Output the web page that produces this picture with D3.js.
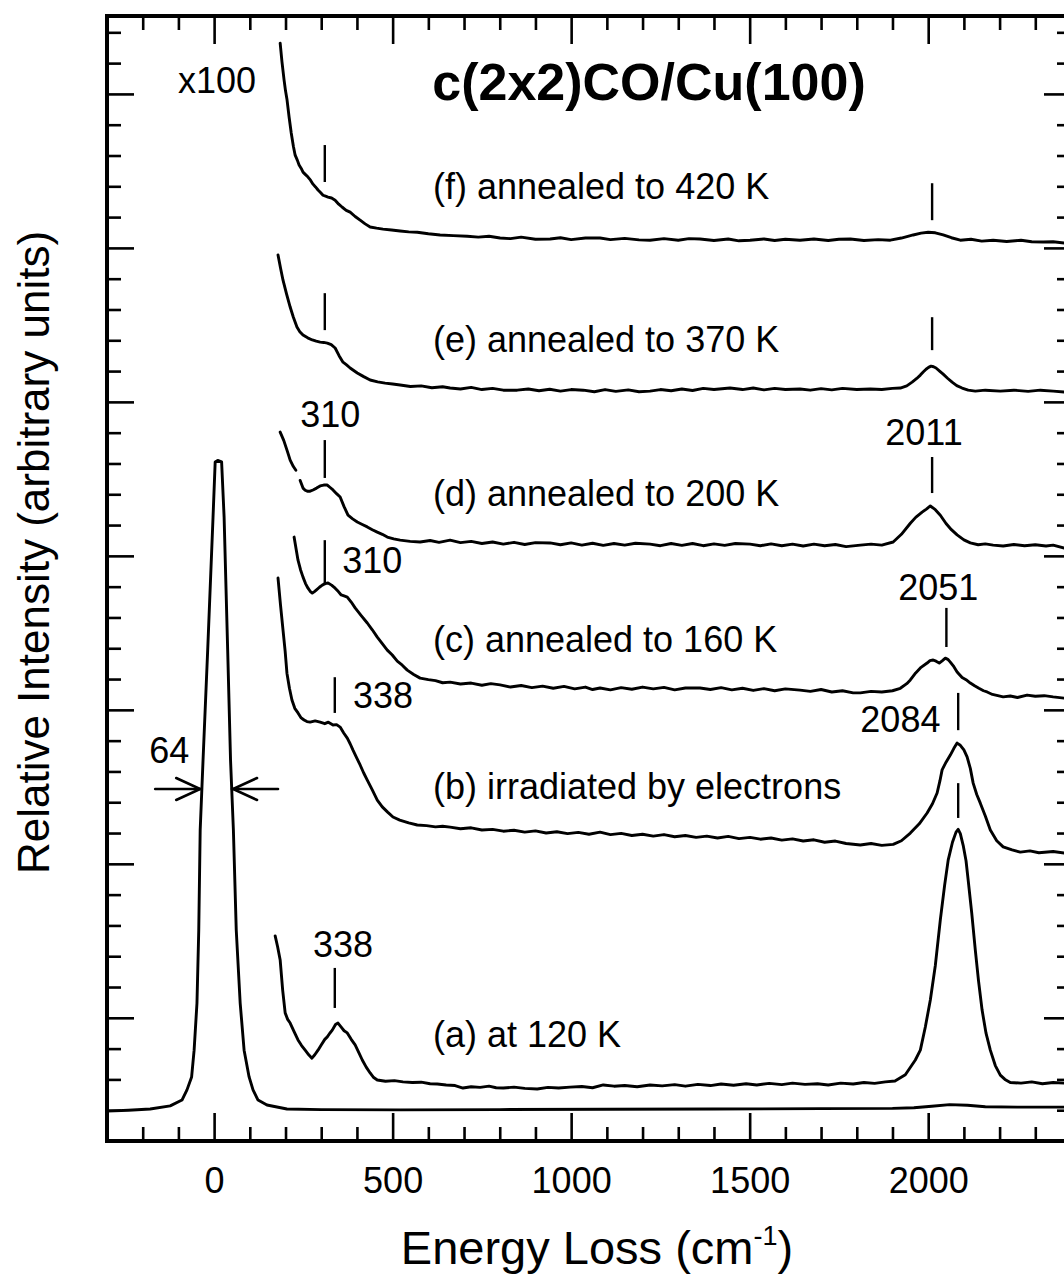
<!DOCTYPE html>
<html>
<head>
<meta charset="utf-8">
<script src="https://cdn.jsdelivr.net/npm/d3@7"></script>
<style>
  html, body { margin: 0; padding: 0; background: #fff; }
  svg { display: block; }
  text { font-family: "Liberation Sans", Arial, Helvetica, sans-serif; fill: #000; }
</style>
</head>
<body>
<svg id="chart" width="1064" height="1281"></svg>
<script>
// ---------------- data (energy loss in cm^-1, intensity in arbitrary units) ----------------
const xMajorTicks = [0, 500, 1000, 1500, 2000];
const xMinorTicks = [-200, -100, 100, 200, 300, 400, 600, 700, 800, 900, 1100, 1200, 1300, 1400,
                     1600, 1700, 1800, 1900, 2100, 2200, 2300];
const yMajorTicks = [4, 9, 14, 19, 24, 29, 34];
const yMinorTicks = [1, 2, 3, 5, 6, 7, 8, 10, 11, 12, 13, 15, 16, 17, 18, 20, 21, 22, 23,
                     25, 26, 27, 28, 30, 31, 32, 33, 35, 36];

// unscaled (elastic) spectrum
const elastic = [[-300,0.97],[-240,1.0],[-179,1.04],[-123,1.14],[-90,1.33],[-76,1.66],[-63,2.08],[-56,2.95],
  [-48,4.48],[-43,6.85],[-39,10.1],[-31,12.37],[-18,15.94],[-3,20.26],[3,22.05],[10,22.1],[21,22.05],
  [28,20.26],[38,15.94],[46,12.37],[54,10.1],[62,6.85],[73,4.48],[84,2.95],[98,2.08],[109,1.66],
  [123,1.33],[148,1.17],[204,1.04],[300,1.02],[521,1.01],[800,1.02],[1100,1.03],[1400,1.04],[1700,1.05],
  [1900,1.06],[1960,1.08],[2010,1.13],[2060,1.18],[2110,1.16],[2160,1.11],[2250,1.1],[2400,1.1]];

// x100 spectra
const specA = [[171,6.66],[178,6.3],[185,5.88],[192,4.9],[199,4.16],[206,3.95],[213,3.83],[224,3.55],[235,3.28],
  [245,3.1],[255,2.95],[265,2.8],[274,2.69],[282,2.8],[291,2.95],[300,3.12],[310,3.3],[317,3.38],[324,3.5],
  [331,3.6],[340,3.78],[347,3.83],[356,3.7],[364,3.58],[373,3.51],[384,3.3],[395,3.12],[405,2.88],[415,2.63],
  [426,2.4],[437,2.21],[447,2.06],[457,1.98],[480,1.94],[505,1.96],[529,1.92],[555,1.9],[580,1.91],[605,1.86],
  [625,1.85],[650,1.82],[675,1.8],[697,1.72],[720,1.76],[745,1.74],[770,1.78],[790,1.73],[810,1.72],[840,1.75],
  [870,1.71],[905,1.69],[935,1.74],[965,1.72],[997,1.75],[1030,1.77],[1060,1.73],[1090,1.82],[1120,1.78],
  [1150,1.8],[1185,1.76],[1221,1.82],[1255,1.79],[1290,1.83],[1320,1.78],[1355,1.84],[1390,1.8],[1420,1.85],
  [1455,1.81],[1490,1.86],[1520,1.82],[1555,1.87],[1590,1.83],[1620,1.88],[1655,1.84],[1690,1.86],[1720,1.82],
  [1755,1.88],[1790,1.85],[1820,1.9],[1850,1.87],[1880,1.92],[1907,1.95],[1936,2.15],[1964,2.63],[1978,2.95],
  [1992,3.7],[2006,4.58],[2020,5.7],[2034,7.18],[2046,8.3],[2056,9.12],[2068,9.7],[2078,10.03],[2084,10.12],
  [2090,9.98],[2098,9.6],[2106,9.1],[2112,8.47],[2122,7.4],[2132,6.2],[2141,5.2],[2151,4.25],[2162,3.5],
  [2174,2.95],[2188,2.45],[2202,2.14],[2215,2.0],[2230,1.9],[2260,1.88],[2290,1.92],[2320,1.86],[2350,1.9],
  [2381,1.88],[2400,1.9]];

const specB = [[179,18.28],[186,17.4],[193,16.59],[199,15.9],[204,15.19],[211,14.7],[218,14.32],[226,14.05],
  [235,13.9],[243,13.75],[252,13.67],[260,13.62],[269,13.6],[283,13.64],[297,13.6],[310,13.55],[320,13.6],
  [333,13.51],[343,13.52],[353,13.44],[363,13.25],[373,13.08],[381,12.9],[389,12.69],[399,12.45],[409,12.21],
  [419,11.95],[429,11.72],[443,11.4],[457,11.07],[471,10.85],[486,10.68],[501,10.52],[520,10.42],[545,10.33],
  [569,10.26],[595,10.24],[620,10.2],[640,10.22],[661,10.19],[690,10.14],[720,10.17],[750,10.1],[780,10.12],
  [810,10.06],[840,10.09],[870,10.03],[900,10.07],[930,10.0],[960,10.04],[990,9.98],[1020,10.02],[1050,9.96],
  [1081,10.03],[1110,9.95],[1140,9.99],[1170,9.92],[1200,9.96],[1230,9.9],[1260,9.95],[1290,9.88],[1320,9.92],
  [1350,9.86],[1380,9.9],[1410,9.84],[1440,9.89],[1470,9.82],[1501,9.86],[1530,9.8],[1560,9.84],[1590,9.77],
  [1620,9.81],[1650,9.74],[1680,9.78],[1710,9.7],[1740,9.74],[1770,9.66],[1810,9.61],[1840,9.66],[1870,9.6],
  [1902,9.63],[1925,9.75],[1950,10.0],[1975,10.3],[1997,10.65],[2012,10.95],[2025,11.3],[2033,11.7],
  [2039,12.05],[2050,12.3],[2062,12.53],[2072,12.75],[2081,12.92],[2090,12.85],[2100,12.7],[2109,12.47],
  [2118,12.1],[2126,11.62],[2136,11.25],[2146,10.97],[2160,10.55],[2174,10.1],[2192,9.75],[2210,9.55],
  [2235,9.45],[2258,9.38],[2285,9.42],[2310,9.36],[2350,9.4],[2381,9.35],[2400,9.33]];

const specC = [[224,19.61],[230,19.2],[235,18.86],[242,18.55],[249,18.31],[256,18.1],[263,17.95],[269,17.85],
  [275,17.79],[281,17.84],[286,17.89],[295,17.98],[303,18.05],[311,18.1],[319,18.12],[329,18.05],[339,17.95],
  [348,17.84],[356,17.73],[364,17.7],[373,17.66],[384,17.5],[395,17.31],[412,17.06],[429,16.82],[443,16.6],
  [457,16.36],[471,16.15],[485,15.94],[499,15.78],[513,15.58],[527,15.45],[541,15.29],[559,15.15],[577,15.03],
  [600,14.98],[620,14.95],[640,14.88],[661,14.9],[690,14.84],[720,14.87],[750,14.8],[775,14.85],[801,14.81],
  [830,14.74],[860,14.79],[890,14.72],[920,14.77],[950,14.7],[980,14.76],[1010,14.68],[1040,14.74],[1060,14.66],
  [1081,14.71],[1110,14.65],[1140,14.72],[1170,14.67],[1200,14.74],[1230,14.68],[1260,14.73],[1290,14.65],
  [1320,14.71],[1361,14.71],[1390,14.66],[1420,14.72],[1450,14.65],[1480,14.7],[1510,14.63],[1540,14.69],
  [1570,14.62],[1600,14.68],[1641,14.64],[1670,14.6],[1700,14.66],[1730,14.58],[1760,14.62],[1790,14.55],
  [1810,14.55],[1840,14.6],[1870,14.58],[1900,14.62],[1922,14.7],[1940,14.85],[1950,14.97],[1965,15.2],
  [1980,15.38],[1997,15.52],[2005,15.6],[2014,15.62],[2022,15.58],[2031,15.52],[2040,15.6],[2048,15.68],
  [2055,15.64],[2062,15.55],[2072,15.4],[2081,15.23],[2095,15.05],[2106,14.98],[2118,14.87],[2130,14.78],
  [2142,14.7],[2155,14.62],[2165,14.58],[2180,14.5],[2195,14.46],[2210,14.42],[2230,14.45],[2250,14.4],
  [2277,14.48],[2300,14.44],[2325,14.46],[2350,14.42],[2381,14.38],[2400,14.38]];

const specD = [[185,23.02],[195,22.75],[205,22.4],[213,22.11],[222,21.9],[229,21.78],null,[241,21.45],
  [249,21.2],[255,21.13],[261,21.1],[269,21.1],[277,21.14],[287,21.2],[297,21.27],[307,21.3],[317,21.3],
  [325,21.22],[333,21.14],[343,21.02],[353,20.91],[364,20.6],[375,20.32],[388,20.2],[401,20.1],[415,20.02],
  [429,19.94],[443,19.85],[457,19.77],[471,19.7],[485,19.61],[503,19.55],[521,19.51],[549,19.47],[577,19.45],
  [605,19.5],[630,19.44],[661,19.51],[690,19.43],[720,19.47],[750,19.4],[780,19.45],[810,19.38],[840,19.44],
  [870,19.37],[900,19.43],[941,19.42],[970,19.36],[1000,19.42],[1030,19.35],[1060,19.41],[1090,19.34],
  [1120,19.4],[1150,19.35],[1180,19.41],[1221,19.38],[1250,19.33],[1280,19.4],[1310,19.34],[1340,19.4],
  [1370,19.33],[1400,19.39],[1430,19.34],[1460,19.4],[1501,19.38],[1530,19.33],[1560,19.39],[1590,19.33],
  [1620,19.38],[1650,19.32],[1680,19.38],[1710,19.33],[1740,19.37],[1770,19.3],[1810,19.35],[1840,19.38],
  [1870,19.35],[1902,19.45],[1925,19.7],[1950,20.06],[1965,20.25],[1983,20.42],[1995,20.52],[2006,20.62],
  [2020,20.5],[2034,20.32],[2050,20.05],[2065,19.85],[2081,19.68],[2100,19.52],[2118,19.42],[2140,19.36],
  [2160,19.39],[2182,19.35],[2210,19.32],[2240,19.37],[2270,19.33],[2300,19.36],[2330,19.32],[2350,19.35],
  [2381,19.25],[2400,19.2]];

const specE = [[179,28.77],[186,28.35],[193,27.95],[203,27.5],[213,27.08],[222,26.75],[232,26.43],[240,26.28],
  [249,26.17],[262,26.08],[275,26.01],[286,25.97],[297,25.94],[307,25.93],[317,25.91],[328,25.86],[339,25.75],
  [350,25.5],[361,25.29],[371,25.2],[381,25.1],[391,25.02],[401,24.94],[419,24.82],[437,24.71],[458,24.65],
  [479,24.61],[500,24.58],[521,24.55],[550,24.5],[580,24.52],[610,24.46],[640,24.49],[661,24.45],[690,24.42],
  [720,24.47],[750,24.4],[780,24.44],[810,24.38],[849,24.38],[880,24.42],[910,24.36],[940,24.41],[970,24.35],
  [1000,24.4],[1034,24.38],[1065,24.33],[1095,24.4],[1125,24.34],[1160,24.39],[1190,24.33],[1221,24.35],
  [1250,24.4],[1280,24.36],[1310,24.42],[1340,24.37],[1370,24.44],[1400,24.4],[1445,24.45],[1480,24.4],
  [1510,24.45],[1540,24.39],[1570,24.44],[1600,24.4],[1641,24.42],[1670,24.38],[1700,24.43],[1730,24.39],
  [1760,24.44],[1800,24.4],[1838,24.42],[1870,24.4],[1900,24.44],[1922,24.45],[1940,24.52],[1955,24.64],
  [1968,24.76],[1978,24.87],[1986,24.97],[1994,25.06],[2001,25.12],[2008,25.16],[2015,25.14],[2022,25.1],
  [2032,25.0],[2042,24.9],[2055,24.76],[2067,24.64],[2080,24.53],[2095,24.45],[2112,24.38],[2132,24.35],
  [2160,24.38],[2202,24.35],[2240,24.38],[2280,24.34],[2314,24.38],[2350,24.35],[2381,24.32],[2400,24.3]];

const specF = [[185,35.65],[190,35.05],[196,34.45],[200,34.1],[204,33.83],[210,33.25],[216,32.73],[222,32.3],
  [227,32.01],[233,31.85],[238,31.69],[244,31.58],[249,31.46],[256,31.38],[263,31.3],[270,31.2],[277,31.07],
  [284,30.98],[291,30.88],[298,30.8],[305,30.71],[312,30.68],[319,30.65],[329,30.62],[339,30.55],[349,30.42],
  [359,30.32],[370,30.22],[381,30.16],[395,30.02],[409,29.9],[423,29.78],[437,29.68],[455,29.64],[473,29.61],
  [497,29.58],[521,29.55],[545,29.52],[569,29.51],[600,29.46],[633,29.42],[670,29.4],[709,29.38],[740,29.35],
  [770,29.38],[801,29.32],[830,29.3],[860,29.35],[900,29.28],[941,29.29],[970,29.33],[1000,29.27],[1040,29.32],
  [1081,29.32],[1110,29.27],[1150,29.31],[1190,29.26],[1221,29.25],[1260,29.3],[1300,29.25],[1330,29.3],
  [1361,29.29],[1400,29.24],[1440,29.29],[1470,29.23],[1501,29.25],[1540,29.29],[1570,29.24],[1600,29.28],
  [1641,29.25],[1680,29.29],[1720,29.24],[1750,29.28],[1782,29.29],[1820,29.24],[1860,29.27],[1894,29.25],
  [1925,29.32],[1958,29.42],[1980,29.48],[2000,29.51],[2020,29.49],[2042,29.42],[2065,29.33],[2090,29.25],
  [2120,29.28],[2150,29.22],[2182,29.25],[2220,29.21],[2260,29.25],[2290,29.2],[2322,29.19],[2350,29.2],
  [2381,29.16],[2400,29.15]];

// peak marker bars: [energy, lower intensity, upper intensity]
const peakMarks = [[310,31.14,32.34],[2011,29.9,31.1],[310,26.33,27.53],[2011,25.68,26.75],
  [310,21.53,22.76],[2011,21.04,22.21],[310,18.05,19.51],[2051,16.04,17.31],
  [338,13.9,15.06],[2084,13.34,14.55],[338,4.32,5.62],[2084,10.49,11.62]];

// peak value labels: [text, energy, intensity]
const peakLabels = [["310",241,23.2],["2011",1880,22.6],["310",359,18.44],["2051",1916,17.56],
  ["338",389,14.06],["2084",1810,13.29],["338",277,5.97]];

// spectrum labels: [text, energy, intensity]
const curveLabels = [["(f) annealed to 420 K",613,30.58],["(e) annealed to 370 K",613,25.62],
  ["(d) annealed to 200 K",613,20.62],["(c) annealed to 160 K",613,15.88],
  ["(b) irradiated by electrons",613,11.10],["(a) at 120 K",613,3.04]];

// FWHM annotation of the elastic peak: label, arrow tails and tips (energy), level (intensity)
const fwhmLabel = ["64", -182, 12.27];
const fwhmArrows = [[-165, -39], [179, 53]];
const fwhmLevel = 11.43;

const scaleLabel = ["x100", -101, 34.03];
const titleText = ["c(2x2)CO/Cu(100)", 611, 33.8];

// ---------------- drawing ----------------
const svg = d3.select("#chart");
const L = 107, R = 1071, T = 16, B = 1141;
const x = d3.scaleLinear().domain([-300, 2400]).range([L, R]);
const y = d3.scaleLinear().domain([0, 36.53]).range([B, T]);

const line = d3.line()
  .defined(d => d !== null)
  .x(d => x(d[0])).y(d => y(d[1]));

const spectra = [elastic, specA, specB, specC, specD, specE, specF];
svg.append("g").selectAll("path").data(spectra).join("path")
  .attr("d", line)
  .attr("fill", "none").attr("stroke", "#000")
  .attr("stroke-width", 2.9).attr("stroke-linejoin", "round").attr("stroke-linecap", "round");

// axes (ticks pointing inward)
function styleAxis(g) {
  g.select(".domain").remove();
  g.selectAll("line").attr("stroke", "#000").attr("stroke-width", 2.6);
}
svg.append("g").attr("transform", `translate(0,${B})`)
  .call(d3.axisBottom(x).tickValues(xMinorTicks).tickSize(-14).tickFormat("")).call(styleAxis);
const bottomMajor = svg.append("g").attr("transform", `translate(0,${B})`)
  .call(d3.axisBottom(x).tickValues(xMajorTicks).tickSize(-28).tickPadding(26).tickFormat(d3.format("d")))
  .call(styleAxis);
bottomMajor.attr("font-size", null).attr("font-family", null);
bottomMajor.selectAll("text").style("font-size", "36px").attr("fill", "#000");

svg.append("g").attr("transform", `translate(0,${T})`)
  .call(d3.axisTop(x).tickValues(xMinorTicks).tickSize(-14).tickFormat("")).call(styleAxis);
svg.append("g").attr("transform", `translate(0,${T})`)
  .call(d3.axisTop(x).tickValues(xMajorTicks).tickSize(-28).tickFormat("")).call(styleAxis);

svg.append("g").attr("transform", `translate(${L},0)`)
  .call(d3.axisLeft(y).tickValues(yMinorTicks).tickSize(-14).tickFormat("")).call(styleAxis);
svg.append("g").attr("transform", `translate(${L},0)`)
  .call(d3.axisLeft(y).tickValues(yMajorTicks).tickSize(-27).tickFormat("")).call(styleAxis);
svg.append("g").attr("transform", `translate(${R},0)`)
  .call(d3.axisRight(y).tickValues(yMinorTicks).tickSize(-14).tickFormat("")).call(styleAxis);
svg.append("g").attr("transform", `translate(${R},0)`)
  .call(d3.axisRight(y).tickValues(yMajorTicks).tickSize(-27).tickFormat("")).call(styleAxis);

// frame
svg.append("rect").attr("x", L).attr("y", T).attr("width", R - L).attr("height", B - T)
  .attr("fill", "none").attr("stroke", "#000").attr("stroke-width", 4);

// peak marker bars
svg.append("g").selectAll("line").data(peakMarks).join("line")
  .attr("x1", d => x(d[0])).attr("x2", d => x(d[0]))
  .attr("y1", d => y(d[1])).attr("y2", d => y(d[2]))
  .attr("stroke", "#000").attr("stroke-width", 2.4);

// labels
svg.append("g").selectAll("text").data(peakLabels).join("text")
  .attr("x", d => x(d[1])).attr("y", d => y(d[2]))
  .style("font-size", "36px").text(d => d[0]);
svg.append("g").selectAll("text").data(curveLabels).join("text")
  .attr("x", d => x(d[1])).attr("y", d => y(d[2]))
  .style("font-size", "36px").text(d => d[0]);
svg.append("text").attr("x", x(scaleLabel[1])).attr("y", y(scaleLabel[2]))
  .style("font-size", "36px").text(scaleLabel[0]);
svg.append("text").attr("x", x(titleText[1])).attr("y", y(titleText[2]))
  .style("font-size", "52px").style("font-weight", "bold").text(titleText[0]);
svg.append("text").attr("x", x(fwhmLabel[1])).attr("y", y(fwhmLabel[2]))
  .style("font-size", "36px").text(fwhmLabel[0]);

// FWHM arrows
const arrowG = svg.append("g").attr("stroke", "#000").attr("stroke-width", 2.6).attr("fill", "none")
  .attr("stroke-linecap", "round");
fwhmArrows.forEach(([tail, tip]) => {
  const yy = y(fwhmLevel), xt = x(tip), dir = Math.sign(x(tip) - x(tail));
  arrowG.append("line").attr("x1", x(tail)).attr("x2", xt).attr("y1", yy).attr("y2", yy);
  arrowG.append("path").attr("d", `M${xt - dir * 24},${yy - 11}L${xt},${yy}L${xt - dir * 24},${yy + 11}`);
});

// axis titles
const xt = svg.append("text")
  .attr("x", (L + R) / 2 + 8).attr("y", 1264)
  .attr("text-anchor", "middle").style("font-size", "47px");
xt.append("tspan").text("Energy Loss (cm");
xt.append("tspan").attr("dy", -19).style("font-size", "27px").text("-1");
xt.append("tspan").attr("dy", 19).text(")");

svg.append("text")
  .attr("transform", `translate(49,${(T + B) / 2 - 26}) rotate(-90)`)
  .attr("text-anchor", "middle").style("font-size", "44px")
  .text("Relative Intensity (arbitrary units)");
</script>
</body>
</html>
